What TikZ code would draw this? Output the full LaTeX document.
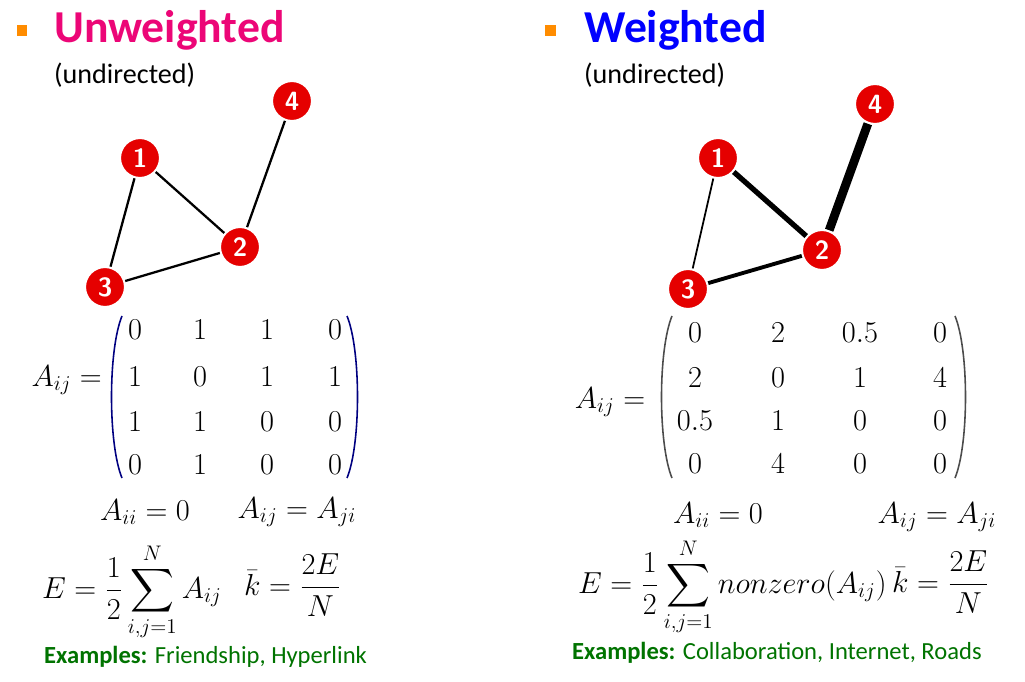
\documentclass[tikz,border=0pt]{standalone}
\usepackage{fontspec}
\setmainfont{Carlito}
\usepackage{amsmath}
\begin{document}
\begin{tikzpicture}[x=0.02cm,y=-0.02cm,
 vert/.style={circle,draw=white,line width=1.2pt,fill=red!90!black,text=white,font=\fontsize{15}{15}\selectfont\bfseries\sffamily,minimum size=0.8cm,inner sep=0pt},
 ed/.style={line width=#1},
 bul/.style={fill=orange!90!yellow,minimum size=0.22cm,inner sep=0pt},
 mathf/.style={font=\fontsize{17}{20}\selectfont},
 ent/.style={font=\fontsize{17}{20}\selectfont,inner sep=0pt},
 par/.style={line width=0.9pt,draw=#1},
 ex/.style={font=\fontsize{14}{16}\selectfont,text=green!45!black,anchor=west}]
\useasboundingbox (0,0) rectangle (1025,682);
% titles
\node[bul] (b1) at (22,31) {};
\node[bul] (b2) at (550,31) {};
\node[anchor=west,font=\fontsize{26}{28}\selectfont\bfseries,text=magenta!80!red] (t1) at (48,30) {Unweighted};
\node[anchor=west,font=\fontsize{26}{28}\selectfont\bfseries,text=blue] (t2) at (578,30) {Weighted};
\node[anchor=west,font=\fontsize{16}{18}\selectfont] (u1) at (48,75) {(undirected)};
\node[anchor=west,font=\fontsize{16}{18}\selectfont] (u2) at (578,75) {(undirected)};
% left graph
\node[vert] (l1) at (140,158) {1};
\node[vert] (l2) at (240,247) {2};
\node[vert] (l3) at (105,287) {3};
\node[vert] (l4) at (292,101) {4};
\draw[ed=1.3pt] (l1)--(l2) (l1)--(l3) (l3)--(l2) (l2)--(l4);
% right graph
\node[vert] (r1) at (718,158) {1};
\node[vert] (r2) at (822,250) {2};
\node[vert] (r3) at (688,289) {3};
\node[vert] (r4) at (875,104) {4};
\draw[ed=3pt] (r1)--(r2);
\draw[ed=1pt] (r1)--(r3);
\draw[ed=2.2pt] (r3)--(r2);
\draw[ed=5pt] (r2)--(r4);
% left matrix
\node[mathf,anchor=east] (al) at (108,380) {$A_{ij}=$};
\foreach \r/\y in {1/330,2/377,3/422,4/465}{
 \foreach \c/\x in {1/135,2/200,3/267,4/335}{
  \coordinate (lm\r\c) at (\x,\y);}}
\foreach \r/\vals in {1/{0,1,1,0},2/{1,0,1,1},3/{1,1,0,0},4/{0,1,0,0}}{
 \foreach \v [count=\c] in \vals {\node[ent] (ln\r\c) at (lm\r\c) {$\v$};}}
\coordinate (lpa) at (122,316); \coordinate (lpb) at (122,478);
\coordinate (lpc) at (347,316); \coordinate (lpd) at (347,478);
\draw[par=blue!50!black] (lpa) .. controls (108,350) and (108,444) .. (lpb);
\draw[par=blue!50!black] (lpc) .. controls (361,350) and (361,444) .. (lpd);
% right matrix
\node[mathf] (ar) at (610,402) {$A_{ij}=$};
\foreach \r/\y in {1/333,2/378,3/421,4/464}{
 \foreach \c/\x in {1/695,2/778,3/860,4/940}{
  \coordinate (rm\r\c) at (\x,\y);}}
\foreach \r/\vals in {1/{0,2,0.5,0},2/{2,0,1,4},3/{0.5,1,0,0},4/{0,4,0,0}}{
 \foreach \v [count=\c] in \vals {\node[ent] (rn\r\c) at (rm\r\c) {$\v$};}}
\coordinate (rpa) at (672,316); \coordinate (rpb) at (672,478);
\coordinate (rpc) at (955,316); \coordinate (rpd) at (955,478);
\draw[par=black!70] (rpa) .. controls (658,350) and (658,444) .. (rpb);
\draw[par=black!70] (rpc) .. controls (969,350) and (969,444) .. (rpd);
% equations
\node[mathf] (e1) at (145,512) {$A_{ii}=0$};
\node[mathf] (e2) at (297,512) {$A_{ij}=A_{ji}$};
\node[mathf,anchor=east] (e3) at (228,592) {$E=\dfrac12\displaystyle\sum_{i,j=1}^{N}A_{ij}$};
\node[mathf,anchor=west] (e4) at (238,585) {$\bar k=\dfrac{2E}{N}$};
\node[mathf] (f1) at (718,515) {$A_{ii}=0$};
\node[mathf] (f2) at (937,517) {$A_{ij}=A_{ji}$};
\node[mathf,anchor=west] (f3) at (572,587) {$E=\dfrac12\displaystyle\sum_{i,j=1}^{N}nonzero(A_{ij})$};
\node[mathf,anchor=west] (f4) at (886,582) {$\bar k=\dfrac{2E}{N}$};
\node[ex] (x1) at (38,657) {\textbf{Examples:} Friendship, Hyperlink};
\node[ex] (x2) at (566,653) {\textbf{Examples:} Collaboration, Internet, Roads};
\end{tikzpicture}
\end{document}
